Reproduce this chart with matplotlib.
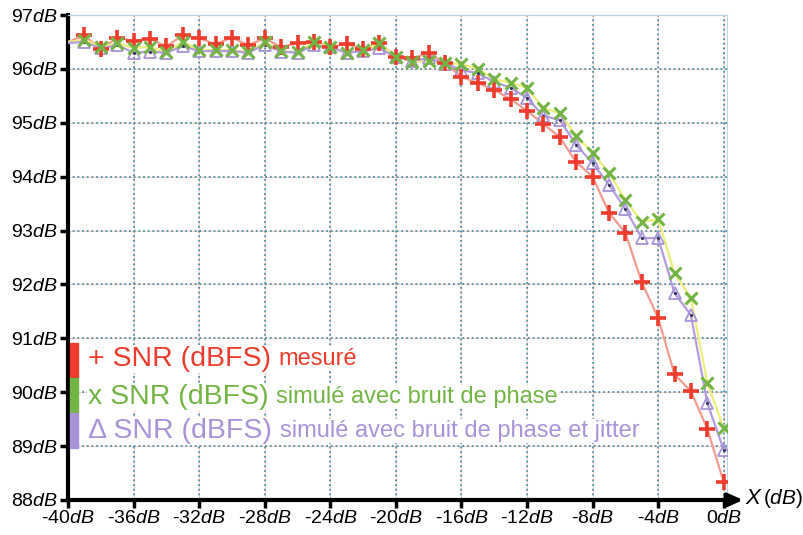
import matplotlib
matplotlib.use('Agg')
import matplotlib.pyplot as plt
import numpy as np
from matplotlib.patches import Rectangle

plt.rcParams['font.family'] = ['Liberation Sans', 'DejaVu Sans']
plt.rcParams['mathtext.fontset'] = 'custom'
plt.rcParams['mathtext.rm'] = 'Liberation Sans'
plt.rcParams['mathtext.it'] = 'Liberation Sans:italic'

# niveaux d'entree (dB)
x_db = np.arange(-40, 1, 1)

# + SNR mesure
snr_mes = [96.50, 96.62, 96.36, 96.58, 96.52, 96.56, 96.42, 96.62, 96.57, 96.46, 96.58,
           96.44, 96.57, 96.40, 96.48, 96.50, 96.41, 96.46, 96.37, 96.48, 96.22,
           96.20, 96.29, 96.11, 95.85, 95.74, 95.61, 95.44, 95.22, 94.98, 94.73,
           94.27, 94.00, 93.33, 92.96, 92.04, 91.38, 90.33, 90.02, 89.32, 88.33]
# x SNR simule avec bruit de phase
snr_phase = [96.50, 96.54, 96.41, 96.48, 96.39, 96.41, 96.31, 96.50, 96.35, 96.35, 96.35,
             96.31, 96.50, 96.33, 96.31, 96.50, 96.41, 96.29, 96.35, 96.48, 96.22,
             96.13, 96.15, 96.11, 96.09, 96.00, 95.81, 95.74, 95.65, 95.27, 95.18,
             94.76, 94.44, 94.07, 93.57, 93.16, 93.21, 92.21, 91.75, 90.17, 89.33]
# triangle SNR simule avec bruit de phase et jitter
snr_jitter = [96.48, 96.50, 96.38, 96.44, 96.30, 96.32, 96.30, 96.42, 96.33, 96.33, 96.33,
              96.30, 96.45, 96.32, 96.30, 96.44, 96.40, 96.30, 96.33, 96.38, 96.22,
              96.15, 96.20, 96.10, 95.98, 95.92, 95.76, 95.65, 95.46, 95.13, 95.05,
              94.59, 94.25, 93.85, 93.40, 92.86, 92.86, 91.84, 91.43, 89.80, 88.93]

leg_txt = [('+ SNR (dBFS) ', 'mesuré'),
           ('x SNR (dBFS) ', 'simulé avec bruit de phase'),
           ('\u0394 SNR (dBFS) ', 'simulé avec bruit de phase et jitter')]

c_red, c_green, c_purple = '#ee3b2b', '#72b544', '#a893d8'

fig = plt.figure(figsize=(8.04, 5.35), dpi=100)
ax = fig.add_axes([68/804, 35/535, (727-68)/804, (500-15)/535])

# grille pointillee
for yv in range(88, 98):
    ax.axhline(yv, color='#f8d6c8', lw=0.8, zorder=0)
    ax.axhline(yv, color='#4a8fab', lw=1.3, ls=(0, (1, 1.6)), zorder=1)
for xv in range(-36, 1, 4):
    ax.axvline(xv, color='#f8d6c8', lw=0.8, zorder=0)
    ax.axvline(xv, color='#4a8fab', lw=1.3, ls=(0, (1, 1.6)), zorder=1)

# courbes
ax.plot(x_db, snr_mes, color='#f59a8e', lw=1.6, zorder=3)
ax.plot(x_db, snr_phase, color='#eded7a', lw=1.6, zorder=3)
ax.plot(x_db, snr_jitter, color='#b49be0', lw=1.6, zorder=4)
ax.plot(x_db[1:], snr_jitter[1:], ls='none', marker='^', ms=9, mfc='none', mec=c_purple, mew=1.3, zorder=5)
ax.plot(x_db[1:], snr_jitter[1:], ls='none', marker='.', ms=2.5, color='#333355', zorder=5)
ax.plot(x_db[1:], snr_mes[1:], ls='none', marker='+', ms=11, mew=2.6, color=c_red, zorder=6)
ax.plot(x_db[1:], snr_phase[1:], ls='none', marker='x', ms=9, mew=2.2, color=c_green, zorder=7)

ax.set_xlim(-40, 0.2)
ax.set_ylim(88, 97)
ax.set_xticks(range(-40, 1, 4))
ax.set_xticklabels([('%d' % v) + r'$\mathit{dB}$' for v in range(-40, 1, 4)])
ax.set_yticks(range(88, 98))
ax.set_yticklabels([('%d' % v) + r'$\mathit{dB}$' for v in range(88, 98)])
ax.tick_params(axis='both', labelsize=14, width=2.5, length=6, direction='out', pad=1)

ax.spines['left'].set_linewidth(3)
ax.spines['bottom'].set_linewidth(3)
ax.spines['top'].set_color('#b9d6e4')
ax.spines['right'].set_color('#b9d6e4')
ax.spines['top'].set_linewidth(0.8)
ax.spines['right'].set_linewidth(0.8)

# fleche axe X
ax.annotate('', xy=(746/804, 35/535), xytext=(725/804, 35/535), xycoords='figure fraction',
            arrowprops=dict(arrowstyle='-|>,head_length=0.9,head_width=0.4', lw=3, color='k'),
            annotation_clip=False)
tx = fig.text(745/804, 37/535, r'$X$', fontsize=16, va='center', ha='left')
fig.canvas.draw()
bx = tx.get_window_extent()
fig.text(bx.x1/804, 37/535, r'$(\mathit{dB})$', fontsize=15, va='center', ha='left')

# legende
cols = [c_red, c_green, c_purple]
y_rows = [359, 397, 431]
for i, (big, small) in enumerate(leg_txt):
    y0 = 343 + i * 35
    fig.patches.append(Rectangle((70/804, 1 - (y0 + 35)/535), 8/804, 35/535,
                                 transform=fig.transFigure, color=cols[i], zorder=10))
    t1 = fig.text(88/804, 1 - y_rows[i]/535, big, fontsize=20.5, color=cols[i],
                  va='center', ha='left', zorder=11,
                  bbox=dict(fc='white', ec='none', pad=0.5))
    fig.canvas.draw()
    bb = t1.get_window_extent()
    fig.text(bb.x1/804, 1 - y_rows[i]/535, small, fontsize=17, color=cols[i],
             va='center', ha='left', zorder=11,
             bbox=dict(fc='white', ec='none', pad=0.5))

fig.savefig('out.png', dpi=100)
